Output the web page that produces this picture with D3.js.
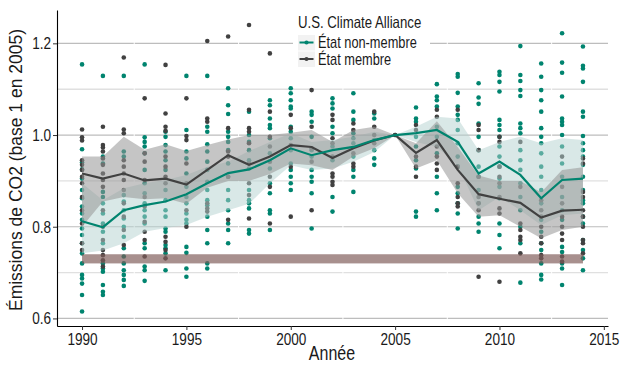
<!DOCTYPE html>
<html>
<head>
<meta charset="utf-8">
<script src="https://d3js.org/d3.v7.min.js"></script>
<style>
  body { margin: 0; background: #fff; }
  svg { display: block; }
  text { font-family: "Liberation Sans", Arial, sans-serif; fill: #1a1a1a; }
</style>
</head>
<body>
<div id="chart"></div>
<script>
// --- data ---
const years = [1990, 1991, 1992, 1993, 1994, 1995, 1996, 1997, 1998, 1999, 2000, 2001, 2002,
               2003, 2004, 2005, 2006, 2007, 2008, 2009, 2010, 2011, 2012, 2013, 2014];

// one array of state values per year
const nonMemberPoints = [
  [1.154, 0.969, 0.94, 0.925, 0.905, 0.88, 0.862, 0.844, 0.829, 0.815, 0.796, 0.782, 0.764, 0.742, 0.72, 0.695, 0.687, 0.676, 0.651, 0.615],
  [1.129, 0.953, 0.938, 0.876, 0.865, 0.851, 0.829, 0.807, 0.789, 0.764, 0.72, 0.709, 0.702, 0.673, 0.658, 0.651],
  [1.129, 0.964, 0.953, 0.869, 0.855, 0.836, 0.818, 0.8, 0.778, 0.753, 0.735, 0.72, 0.705, 0.695, 0.684, 0.671],
  [1.154, 0.995, 0.985, 0.975, 0.96, 0.924, 0.895, 0.873, 0.851, 0.836, 0.822, 0.807, 0.764, 0.753, 0.713, 0.705, 0.682],
  [1.007, 0.996, 0.978, 0.964, 0.945, 0.924, 0.88, 0.858, 0.836, 0.822, 0.796, 0.789, 0.76, 0.753, 0.742, 0.705],
  [1.129, 1.011, 0.964, 0.949, 0.916, 0.887, 0.865, 0.851, 0.829, 0.815, 0.807, 0.756, 0.743, 0.709, 0.691],
  [1.129, 1.018, 1.007, 0.98, 0.964, 0.942, 0.924, 0.898, 0.88, 0.858, 0.847, 0.822, 0.793, 0.764, 0.72, 0.709],
  [1.102, 1.065, 1.046, 1.007, 0.996, 0.985, 0.967, 0.938, 0.909, 0.88, 0.858, 0.836, 0.807, 0.793, 0.764],
  [1.051, 1.0, 0.985, 0.967, 0.945, 0.927, 0.88, 0.858, 0.851, 0.84, 0.793, 0.785],
  [1.076, 1.065, 1.036, 1.022, 1.015, 0.993, 0.96, 0.927, 0.895, 0.873, 0.836, 0.829, 0.793],
  [1.102, 1.091, 1.076, 1.062, 1.058, 1.018, 1.007, 0.993, 0.967, 0.938, 0.924, 0.909, 0.895, 0.88],
  [1.051, 1.044, 1.029, 0.996, 0.967, 0.953, 0.924, 0.909, 0.898, 0.873, 0.796],
  [1.08, 1.069, 1.058, 1.018, 1.004, 0.975, 0.945, 0.865, 0.833],
  [1.091, 1.051, 1.033, 1.004, 0.993, 0.982, 0.953, 0.924, 0.909, 0.876],
  [1.047, 1.036, 0.989, 0.967, 0.949, 0.935],
  [1.0],
  [1.06, 1.036, 1.029, 0.996, 0.975, 0.945, 0.927, 0.833, 0.822],
  [1.111, 1.084, 1.076, 1.062, 1.018, 0.996, 0.96, 0.909, 0.873, 0.836],
  [1.133, 1.127, 1.092, 1.062, 1.044, 1.033, 1.011, 0.982, 0.953, 0.931, 0.887, 0.873, 0.851, 0.829, 0.796],
  [1.113, 1.082, 1.068, 1.025, 0.996, 0.967, 0.931, 0.909, 0.88, 0.851, 0.822, 0.807, 0.789],
  [1.138, 1.131, 1.116, 1.095, 1.033, 1.022, 1.011, 0.996, 0.975, 0.953, 0.931, 0.905, 0.887, 0.862, 0.807, 0.782, 0.753],
  [1.194, 1.131, 1.118, 1.098, 1.085, 1.025, 1.015, 1.004, 0.967, 0.945, 0.924, 0.895, 0.865, 0.836, 0.8, 0.764, 0.678],
  [1.156, 1.127, 1.098, 1.076, 1.051, 1.015, 0.996, 0.982, 0.96, 0.931, 0.909, 0.88, 0.851, 0.815, 0.789, 0.764, 0.749, 0.72, 0.695, 0.685],
  [1.222, 1.158, 1.136, 1.084, 1.036, 1.029, 1.022, 1.0, 0.975, 0.938, 0.909, 0.865, 0.836, 0.815, 0.756, 0.745, 0.72, 0.709, 0.673],
  [1.193, 1.151, 1.145, 1.116, 1.051, 1.04, 0.998, 0.982, 0.967, 0.953, 0.935, 0.909, 0.88, 0.858, 0.851, 0.822, 0.807, 0.771, 0.749, 0.731, 0.705]
];

const memberPoints = [
  [1.012, 0.995, 0.988, 0.945, 0.935, 0.924, 0.909, 0.895, 0.865, 0.836, 0.807, 0.764, 0.749],
  [1.018, 0.978, 0.973, 0.964, 0.949, 0.935, 0.916, 0.902, 0.887, 0.836, 0.8, 0.771, 0.749, 0.738, 0.727, 0.713],
  [1.169, 1.012, 1.004, 0.945, 0.931, 0.916, 0.902, 0.88, 0.851, 0.822, 0.793, 0.76],
  [1.08, 0.96, 0.942, 0.902, 0.865, 0.844, 0.811, 0.789, 0.771, 0.735],
  [1.153, 1.047, 1.018, 1.009, 0.953, 0.931, 0.909, 0.895, 0.778, 0.767, 0.749, 0.731],
  [1.08, 0.998, 0.989, 0.938, 0.895, 0.836, 0.8],
  [1.205, 1.036, 1.029, 0.851, 0.84, 0.833],
  [1.215, 1.015, 0.964, 0.953, 0.909, 0.815],
  [1.24, 1.055, 1.015, 1.007, 0.982, 0.938, 0.895, 0.869, 0.818],
  [1.178, 1.051, 0.996, 0.975, 0.942, 0.909, 0.887, 0.807],
  [1.044, 1.015, 0.978, 0.931, 0.822],
  [1.098, 1.018, 0.971, 0.942, 0.836],
  [1.044, 1.033, 0.993, 0.982, 0.953, 0.916, 0.909, 0.898, 0.891],
  [1.025, 1.011, 0.96, 0.938, 0.931],
  [1.051, 1.018, 1.0, 0.982],
  [1.0],
  [1.022, 1.011, 0.953, 0.931, 0.909],
  [1.055, 1.04, 0.975, 0.953, 0.938, 0.924],
  [1.055, 0.931, 0.895, 0.865, 0.851, 0.844],
  [1.022, 1.011, 0.967, 0.909, 0.865, 0.851, 0.836, 0.691],
  [0.996, 0.985, 0.931, 0.909, 0.895, 0.865, 0.84, 0.829, 0.68],
  [0.985, 0.887, 0.807, 0.793, 0.778, 0.771, 0.742],
  [0.858, 0.836, 0.822, 0.8, 0.778, 0.764, 0.738, 0.731],
  [0.953, 0.887, 0.851, 0.822, 0.8, 0.785, 0.771, 0.735, 0.724],
  [0.949, 0.938, 0.876, 0.865, 0.836, 0.822, 0.8, 0.771, 0.764, 0.742]
];

// yearly mean and band
const nonMemberMean = [0.812, 0.799, 0.836, 0.847, 0.855, 0.871, 0.895, 0.917, 0.925, 0.945, 0.971, 0.956, 0.967,
                       0.974, 0.989, 1.0, 1.004, 1.011, 0.985, 0.916, 0.942, 0.913, 0.862, 0.902, 0.905];
const nonMemberLo = [0.742, 0.748, 0.764, 0.789, 0.797, 0.804, 0.822, 0.836, 0.85, 0.895, 0.934, 0.924, 0.927,
                     0.942, 0.963, 1.0, 0.985, 0.974, 0.934, 0.836, 0.865, 0.836, 0.804, 0.825, 0.829];
const nonMemberHi = [0.895, 0.858, 0.884, 0.895, 0.902, 0.913, 0.931, 0.942, 0.965, 0.985, 1.004, 0.985, 0.989,
                     0.996, 1.007, 1.0, 1.018, 1.04, 1.036, 0.967, 0.985, 0.996, 0.982, 0.993, 0.989];

const memberMean = [0.916, 0.905, 0.916, 0.901, 0.905, 0.892, 0.924, 0.956, 0.935, 0.953, 0.978, 0.974, 0.95,
                    0.971, 0.988, 1.0, 0.961, 0.989, 0.924, 0.871, 0.861, 0.852, 0.82, 0.835, 0.837];
const memberLo = [0.8, 0.855, 0.865, 0.86, 0.862, 0.85, 0.885, 0.9, 0.9, 0.915, 0.938, 0.934, 0.924,
                  0.953, 0.971, 1.0, 0.927, 0.945, 0.873, 0.822, 0.825, 0.8, 0.775, 0.793, 0.8];
const memberHi = [0.953, 0.953, 0.996, 0.968, 0.98, 0.965, 0.978, 0.99, 1.0, 1.0, 1.005, 1.011, 0.985,
                  1.011, 1.018, 1.0, 0.982, 1.03, 0.974, 0.912, 0.9, 0.9, 0.875, 0.924, 0.93];

// target band
const targetYears = [1990, 2014];
const targetRange = [0.72, 0.74];

const xTicks = [1990, 1995, 2000, 2005, 2010, 2015];
const yTicks = [0.6, 0.8, 1.0, 1.2];
const yMinor = [0.7, 0.9, 1.1];
const xMinor = [1992.5, 1997.5, 2002.5, 2007.5, 2012.5];

const groups = ["État non-membre", "État membre"];

// --- layout ---
const width = 620, height = 367;
const panel = { left: 57, right: 608, top: 10, bottom: 326 };
const teal = "#00846f", dark = "#414141";
const squeeze = "scale(0.8,1)"; // the reference text is horizontally condensed

const x = d3.scaleLinear().domain([1988.8, 2015.2]).range([panel.left, panel.right]);
const y = d3.scaleLinear().domain([0.5835, 1.2727]).range([panel.bottom, panel.top]);

const svg = d3.select("#chart").append("svg")
    .attr("width", width)
    .attr("height", height);

// grid
svg.append("g").selectAll("line")
    .data(yMinor).enter().append("line")
      .attr("x1", panel.left).attr("x2", panel.right)
      .attr("y1", d => y(d)).attr("y2", d => y(d))
      .attr("stroke", "#e0e0e0").attr("stroke-width", 1.4);
svg.append("g").selectAll("line")
    .data(yTicks).enter().append("line")
      .attr("x1", panel.left).attr("x2", panel.right)
      .attr("y1", d => y(d)).attr("y2", d => y(d))
      .attr("stroke", "#bdbdbd").attr("stroke-width", 1.2);
svg.append("g").selectAll("line")
    .data(xMinor).enter().append("line")
      .attr("x1", d => x(d)).attr("x2", d => x(d))
      .attr("y1", panel.top).attr("y2", panel.bottom)
      .attr("stroke", "#fff").attr("stroke-width", 1);

// points
function flatten(pts) {
  let out = [];
  pts.forEach((vals, i) => vals.forEach(v => out.push({ year: years[i], value: v })));
  return out;
}

svg.append("g").selectAll("circle")
    .data(flatten(nonMemberPoints)).enter().append("circle")
      .attr("cx", d => x(d.year)).attr("cy", d => y(d.value))
      .attr("r", 2.3).attr("fill", teal);

svg.append("g").selectAll("circle")
    .data(flatten(memberPoints)).enter().append("circle")
      .attr("cx", d => x(d.year)).attr("cy", d => y(d.value))
      .attr("r", 2.3).attr("fill", dark);

// target band
svg.append("rect")
    .attr("x", x(targetYears[0]))
    .attr("width", x(targetYears[1]) - x(targetYears[0]))
    .attr("y", y(targetRange[1]))
    .attr("height", y(targetRange[0]) - y(targetRange[1]))
    .attr("fill", "#7f5c58").attr("fill-opacity", 0.68);

// ribbons
const area = d3.area()
    .x(d => x(d.year))
    .y0(d => y(d.lo))
    .y1(d => y(d.hi));

const nmBand = years.map((yr, i) => ({ year: yr, lo: nonMemberLo[i], hi: nonMemberHi[i] }));
const mBand = years.map((yr, i) => ({ year: yr, lo: memberLo[i], hi: memberHi[i] }));

svg.append("path").datum(nmBand)
    .attr("d", area)
    .attr("fill", "rgb(180,210,208)").attr("fill-opacity", 0.5);
svg.append("path").datum(mBand)
    .attr("d", area)
    .attr("fill", "rgb(150,150,150)").attr("fill-opacity", 0.55);

// mean lines
const line = d3.line()
    .x((d, i) => x(years[i]))
    .y(d => y(d));

svg.append("path").datum(memberMean)
    .attr("d", line)
    .attr("fill", "none").attr("stroke", dark).attr("stroke-width", 2.2);
svg.append("path").datum(nonMemberMean)
    .attr("d", line)
    .attr("fill", "none").attr("stroke", teal).attr("stroke-width", 2.2);

// axes
const xAxis = svg.append("g")
    .attr("transform", "translate(0," + panel.bottom + ")")
    .call(d3.axisBottom(x).tickValues(xTicks).tickFormat(d3.format("d")).tickSize(4).tickSizeOuter(0));
const yAxis = svg.append("g")
    .attr("transform", "translate(" + panel.left + ",0)")
    .call(d3.axisLeft(y).tickValues(yTicks).tickFormat(d3.format(".1f")).tickSize(4).tickSizeOuter(0));

[xAxis, yAxis].forEach(a => {
  a.select(".domain").attr("stroke", "#000").attr("stroke-width", 1.1);
  a.selectAll(".tick line").attr("stroke", "#333");
  a.selectAll(".tick text")
    .attr("fill", "#1a1a1a")
    .attr("transform", squeeze)
    .style("font-family", '"Liberation Sans", Arial, sans-serif')
    .style("font-size", "17px");
});
yAxis.selectAll(".tick text").attr("x", -7.5);

// horizontal text helper
function label(g, tx, ty, txt, size, anchor) {
  return g.append("text")
      .attr("transform", "translate(" + tx + "," + ty + ") " + squeeze)
      .attr("text-anchor", anchor || "start")
      .style("font-size", size + "px")
      .text(txt);
}

// axis titles
label(svg, 332, 360, "Année", 20, "middle");

svg.append("text")
    .attr("transform", "translate(21.5,170) rotate(-90)")
    .attr("text-anchor", "middle")
    .style("font-size", "17.5px")
    .text("Émissions de CO2 (base 1 en 2005)");

// legend
const legend = svg.append("g");
legend.append("rect")
    .attr("x", 293).attr("y", 10).attr("width", 137).attr("height", 60)
    .attr("fill", "#fff");
label(legend, 298, 28, "U.S. Climate Alliance", 16.5);

const keys = legend.selectAll("g.key")
    .data(groups).enter().append("g")
      .attr("class", "key")
      .attr("transform", (d, i) => "translate(298," + (35 + i * 16.5) + ")");
keys.append("rect")
    .attr("width", 17).attr("height", 15.5)
    .attr("fill", "#f2f2f2");
keys.append("line")
    .attr("x1", 1.5).attr("x2", 15.5).attr("y1", 7.5).attr("y2", 7.5)
    .attr("stroke", (d, i) => i === 0 ? teal : dark).attr("stroke-width", 2);
keys.append("circle")
    .attr("cx", 8.5).attr("cy", 7.5).attr("r", 2.1)
    .attr("fill", (d, i) => i === 0 ? teal : dark);
keys.each(function(d) {
  label(d3.select(this), 20, 13, d, 16);
});
</script>
</body>
</html>
